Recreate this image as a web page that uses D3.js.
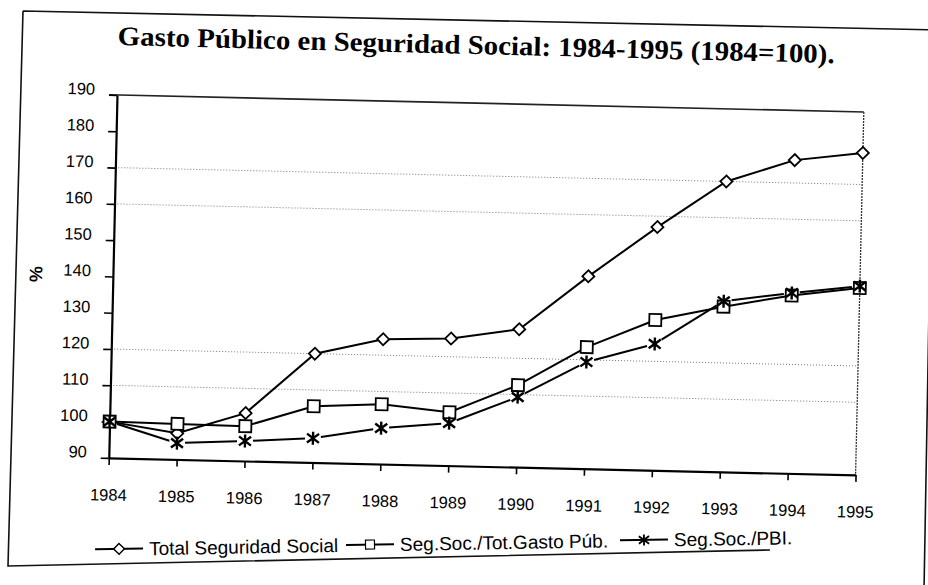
<!DOCTYPE html>
<html><head><meta charset="utf-8">
<script src="https://cdn.jsdelivr.net/npm/d3@7"></script>
<style>body{margin:0;background:#fff} svg{display:block}</style>
</head><body>
<svg id="c" width="928" height="585"></svg>
<script>
// ---- data ----
const years = [1984,1985,1986,1987,1988,1989,1990,1991,1992,1993,1994,1995];
const totalSeguridad = [100,97.2,103.2,120,124.4,125,128,143,157,170,176.3,178.7];
const segSocGasto    = [100,99.8,99.6,105.5,106.5,104.7,112.6,123.5,131.4,135.5,139,141.5];
const segSocPBI      = [100,94.5,95.5,96.7,99.9,101.7,109.3,119.4,124.8,137,139.7,142];
const yTicks = [90,100,110,120,130,140,150,160,170,180,190];
const gridValues = [110,120,160,170];
const seriesNames = ["Total Seguridad Social","Seg.Soc./Tot.Gasto Púb.","Seg.Soc./PBI."];
const titleText = "Gasto Público en Seguridad Social: 1984-1995 (1984=100).";

const svg = d3.select("#c");
const W = 747, H = 363;
const x = d3.scaleLinear().domain([1984,1995]).range([0,W]);
const y = d3.scaleLinear().domain([90,190]).range([H,0]);

// outer frame (scanned page, slightly skewed)
svg.append("path")
  .attr("d","M23,11 L940,30 M23,11 L8,566 L770,550 M934,30 L924,590")
  .attr("fill","none").attr("stroke","#111").attr("stroke-width",1.6);

// title
svg.append("text")
  .attr("x",476).attr("y",54)
  .attr("transform","rotate(1.45,476,54)")
  .attr("text-anchor","middle")
  .attr("font-family","'Liberation Serif','Times New Roman',serif")
  .attr("font-weight","bold").attr("font-size",27)
  .attr("textLength",717).attr("lengthAdjust","spacingAndGlyphs")
  .attr("fill","#000")
  .text(titleText);

const g = svg.append("g").attr("transform","rotate(1.3,117,95) translate(117,95)");

// gridlines
g.selectAll("line.grid").data(gridValues).join("line")
  .attr("class","grid")
  .attr("x1",0).attr("x2",W)
  .attr("y1",d=>y(d)).attr("y2",d=>y(d))
  .attr("stroke","#777").attr("stroke-width",1).attr("stroke-dasharray","1,2");

// plot border top/right
g.append("line").attr("x1",-8).attr("x2",W).attr("y1",0).attr("y2",0)
  .attr("stroke","#222").attr("stroke-width",1.6);
g.append("line").attr("x1",W).attr("x2",W).attr("y1",0).attr("y2",H)
  .attr("stroke","#333").attr("stroke-width",1.3).attr("stroke-dasharray","2,1");

// axes
const yAxis = g.append("g")
  .call(d3.axisLeft(y).tickValues(yTicks).tickSize(8).tickSizeOuter(0).tickPadding(14).tickFormat(d3.format("d")));
const xAxis = g.append("g").attr("transform",`translate(0,${H})`)
  .call(d3.axisBottom(x).tickValues(years).tickSize(7).tickSizeOuter(0).tickPadding(24).tickFormat(d3.format("d")));
[yAxis,xAxis].forEach(a=>{
  a.select(".domain").attr("stroke","#000").attr("stroke-width",2.2);
  a.selectAll(".tick line").attr("stroke","#000").attr("stroke-width",1.6);
  a.selectAll(".tick text").attr("fill","#000")
   .attr("font-family","'Liberation Sans',Arial,sans-serif").attr("font-size",16.5);
});
yAxis.selectAll(".tick text").attr("dy","-0.02em");

// y label
g.append("text")
  .attr("transform",`translate(-77,${181}) rotate(-90)`)
  .attr("text-anchor","middle").attr("dy","0.35em")
  .attr("font-family","'Liberation Sans',Arial,sans-serif")
  .attr("font-weight","bold").attr("font-size",18).text("%");

// series
const mk = vals => years.map((yr,i)=>({year:yr,v:vals[i]}));
const sTotal = mk(totalSeguridad), sGasto = mk(segSocGasto), sPBI = mk(segSocPBI);
const line = d3.line().x(d=>x(d.year)).y(d=>y(d.v));

g.append("path").datum(sTotal).attr("d",line)
  .attr("fill","none").attr("stroke","#000").attr("stroke-width",2);
g.append("path").datum(sGasto).attr("d",line)
  .attr("fill","none").attr("stroke","#000").attr("stroke-width",2);

// PBI series: segments with gaps around asterisks
const segs = d3.pairs(sPBI).map(([a,b])=>{
  const x0=x(a.year), y0=y(a.v), x1=x(b.year), y1=y(b.v);
  const L=Math.hypot(x1-x0,y1-y0), ux=(x1-x0)/L, uy=(y1-y0)/L, t=8;
  return {x1:x0+ux*t,y1:y0+uy*t,x2:x1-ux*t,y2:y1-uy*t};
});
g.selectAll("line.pbi").data(segs).join("line").attr("class","pbi")
  .attr("x1",d=>d.x1).attr("y1",d=>d.y1).attr("x2",d=>d.x2).attr("y2",d=>d.y2)
  .attr("stroke","#000").attr("stroke-width",2);

const diamond = d3.symbol(d3.symbolSquare, 72)();
const square = d3.symbol(d3.symbolSquare, 144)();
const asterisk = "M0,-6.5V6.5M-6,-4.5L6,4.5M-6,4.5L6,-4.5";

g.selectAll("path.dia").data(sTotal).join("path").attr("class","dia")
  .attr("d",diamond)
  .attr("transform",d=>`translate(${x(d.year)},${y(d.v)}) rotate(45)`)
  .attr("fill","#fff").attr("stroke","#000").attr("stroke-width",1.8);
g.selectAll("path.sq").data(sGasto).join("path").attr("class","sq")
  .attr("d",square)
  .attr("transform",d=>`translate(${x(d.year)},${y(d.v)})`)
  .attr("fill","#fff").attr("stroke","#000").attr("stroke-width",1.8);
g.selectAll("path.ast").data(sPBI).join("path").attr("class","ast")
  .attr("d",asterisk)
  .attr("transform",d=>`translate(${x(d.year)},${y(d.v)})`)
  .attr("fill","none").attr("stroke","#000").attr("stroke-width",2.4);

// legend (fixed layout slots)
const ly = 543.4;
const leg = svg.append("g").attr("transform",`rotate(-0.97,440,${ly})`);
const symbols = [
  {d:diamond, rot:45, fill:"#fff", sw:1.6, scale:0.9},
  {d:square, rot:0, fill:"#fff", sw:1.6, scale:0.75},
  {d:asterisk, rot:0, fill:"none", sw:2.2, scale:0.85}
];
const slotX = [95, 346, 620];
const symLen = 48;
seriesNames.forEach((name,i)=>{
  const cx = slotX[i];
  leg.append("line").attr("x1",cx).attr("x2",cx+symLen).attr("y1",ly).attr("y2",ly)
    .attr("stroke","#000").attr("stroke-width",2);
  const s = symbols[i];
  leg.append("path").attr("d",s.d)
    .attr("transform",`translate(${cx+symLen/2},${ly}) rotate(${s.rot}) scale(${s.scale})`)
    .attr("fill",s.fill).attr("stroke","#000").attr("stroke-width",s.sw);
  leg.append("text").attr("x",cx+symLen+6).attr("y",ly).attr("dy","0.36em")
    .attr("font-family","'Liberation Sans',Arial,sans-serif").attr("font-size",19)
    .attr("fill","#000").text(name);
});
</script>
</body></html>
